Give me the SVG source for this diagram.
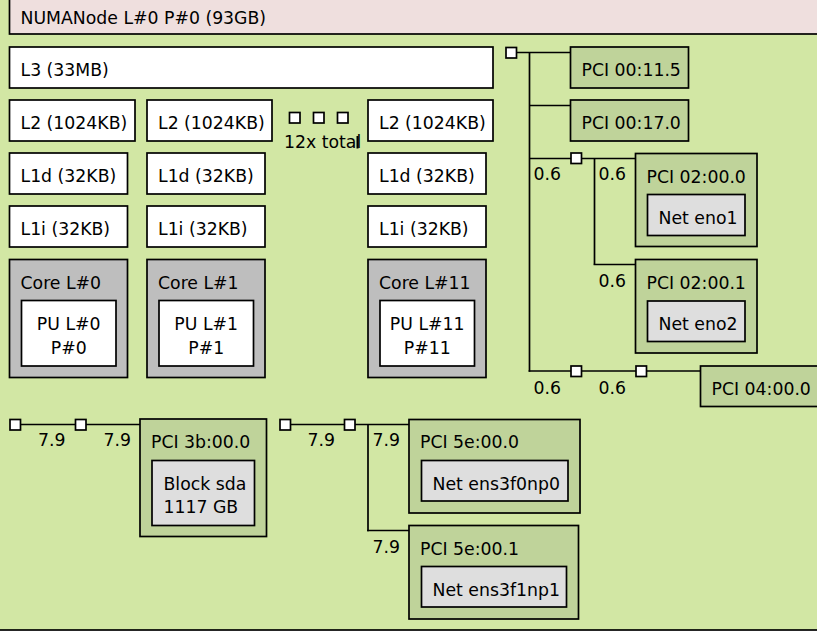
<svg xmlns="http://www.w3.org/2000/svg" width="817" height="632" viewBox="0 0 817 632">
<style>
rect{stroke:#000;stroke-width:1.7}
text{font-family:"DejaVu Sans",sans-serif;font-size:17.3px;fill:#000}
.pkg{fill:#d2e7a4}
.numa{fill:#efdfde}
.cache{fill:#fff}
.core{fill:#bebebe}
.pu{fill:#fff}
.pci{fill:#bfd39a}
.os{fill:#dedede}
.br{fill:#fff}
.c{text-anchor:middle}
#connectors line{stroke:#000;stroke-width:1.7}
</style>
<rect class="pkg" x="-10" y="-10" width="840" height="640"/>
<g id="numa"><rect class="numa" x="9.5" y="-10" width="820" height="44"/><text x="20.5" y="24">NUMANode L#0 P#0 (93GB)</text></g>
<g id="l3"><rect class="cache" x="9.5" y="47" width="483.5" height="41"/><text x="20.5" y="76">L3 (33MB)</text></g>
<g id="l2-0"><rect class="cache" x="9.5" y="100" width="125.5" height="41"/><text x="20.5" y="129">L2 (1024KB)</text></g>
<g id="l2-1"><rect class="cache" x="147" y="100" width="125" height="41"/><text x="158" y="129">L2 (1024KB)</text></g>
<g id="l2-11"><rect class="cache" x="368" y="100" width="125" height="41"/><text x="379" y="129">L2 (1024KB)</text></g>
<g id="l1d-0"><rect class="cache" x="9.5" y="153" width="118" height="41"/><text x="20.5" y="182">L1d (32KB)</text></g>
<g id="l1d-1"><rect class="cache" x="147" y="153" width="118" height="41"/><text x="158" y="182">L1d (32KB)</text></g>
<g id="l1d-11"><rect class="cache" x="368" y="153" width="118" height="41"/><text x="379" y="182">L1d (32KB)</text></g>
<g id="l1i-0"><rect class="cache" x="9.5" y="206" width="118" height="41"/><text x="20.5" y="235">L1i (32KB)</text></g>
<g id="l1i-1"><rect class="cache" x="147" y="206" width="118" height="41"/><text x="158" y="235">L1i (32KB)</text></g>
<g id="l1i-11"><rect class="cache" x="368" y="206" width="118" height="41"/><text x="379" y="235">L1i (32KB)</text></g>
<g id="core-0"><rect class="core" x="9.5" y="259.5" width="118" height="118"/><text x="20.5" y="288.5">Core L#0</text></g>
<g id="pu-0"><rect class="pu" x="21.5" y="300.5" width="94.5" height="65.5"/><text class="c" x="68.7" y="330">PU L#0</text><text class="c" x="68.7" y="353.5">P#0</text></g>
<g id="core-1"><rect class="core" x="147" y="259.5" width="118" height="118"/><text x="158" y="288.5">Core L#1</text></g>
<g id="pu-1"><rect class="pu" x="159" y="300.5" width="94.5" height="65.5"/><text class="c" x="206.2" y="330">PU L#1</text><text class="c" x="206.2" y="353.5">P#1</text></g>
<g id="core-11"><rect class="core" x="368" y="259.5" width="118" height="118"/><text x="379" y="288.5">Core L#11</text></g>
<g id="pu-11"><rect class="pu" x="380" y="300.5" width="94.5" height="65.5"/><text class="c" x="427.2" y="330">PU L#11</text><text class="c" x="427.2" y="353.5">P#11</text></g>
<g id="more"><rect class="br" x="289.5" y="112.5" width="10.5" height="10.5"/><rect class="br" x="313.5" y="112.5" width="10.5" height="10.5"/><rect class="br" x="337.5" y="112.5" width="10.5" height="10.5"/><text x="284" y="147.5">12x total</text><line x1="357.5" y1="136" x2="357.5" y2="148.5" stroke="#000" stroke-width="2"/></g>
<g id="connectors">
<line x1="517" y1="52.5" x2="570.5" y2="52.5"/>
<line x1="529.5" y1="52.5" x2="529.5" y2="371.8"/>
<line x1="529.5" y1="105.5" x2="570.5" y2="105.5"/>
<line x1="529.5" y1="158.5" x2="571" y2="158.5"/>
<line x1="582" y1="158.5" x2="635.5" y2="158.5"/>
<line x1="594.5" y1="158.5" x2="594.5" y2="264.5"/>
<line x1="593.6" y1="264.5" x2="635.5" y2="264.5"/>
<line x1="528.6" y1="371" x2="571" y2="371"/>
<line x1="582" y1="371" x2="636" y2="371"/>
<line x1="647" y1="371" x2="700.5" y2="371"/>
<line x1="21" y1="424.5" x2="75" y2="424.5"/>
<line x1="86" y1="424.5" x2="140" y2="424.5"/>
<line x1="290.5" y1="424.5" x2="344" y2="424.5"/>
<line x1="355" y1="424.5" x2="409" y2="424.5"/>
<line x1="368" y1="424.5" x2="368" y2="531.3"/>
<line x1="367.1" y1="530.5" x2="409" y2="530.5"/>
</g>
<g id="hostbridge-0"><rect class="br" x="506" y="47.5" width="10.5" height="10.5"/></g>
<g id="bridge-02"><rect class="br" x="571" y="153" width="10.5" height="10.5"/></g>
<g id="bridge-04a"><rect class="br" x="571" y="366" width="10.5" height="10.5"/></g>
<g id="bridge-04b"><rect class="br" x="636" y="366" width="10.5" height="10.5"/></g>
<g id="hostbridge-3b"><rect class="br" x="10" y="419.5" width="10.5" height="10.5"/></g>
<g id="bridge-3b"><rect class="br" x="75.5" y="419.5" width="10.5" height="10.5"/></g>
<g id="hostbridge-5e"><rect class="br" x="280" y="419.5" width="10.5" height="10.5"/></g>
<g id="bridge-5e"><rect class="br" x="344.5" y="419.5" width="10.5" height="10.5"/></g>
<g id="labels">
<text x="533.5" y="180">0.6</text><text x="598.5" y="180">0.6</text>
<text x="598.5" y="287">0.6</text>
<text x="533.5" y="393.5">0.6</text><text x="598.5" y="393.5">0.6</text>
<text x="38" y="446">7.9</text><text x="103.5" y="446">7.9</text>
<text x="307.5" y="446">7.9</text><text x="372.5" y="446">7.9</text>
<text x="372.5" y="552.5">7.9</text>
</g>
<g id="pci-00-11-5"><rect class="pci" x="570.5" y="47" width="118" height="41"/><text x="581.5" y="76">PCI 00:11.5</text></g>
<g id="pci-00-17-0"><rect class="pci" x="570.5" y="100" width="118" height="41"/><text x="581.5" y="129">PCI 00:17.0</text></g>
<g id="pci-02-00-0"><rect class="pci" x="635.5" y="153.5" width="121.5" height="93"/><text x="646.5" y="182.5">PCI 02:00.0</text></g>
<g id="net-eno1"><rect class="os" x="647.5" y="194.5" width="97.5" height="41"/><text x="658.5" y="223.5">Net eno1</text></g>
<g id="pci-02-00-1"><rect class="pci" x="635.5" y="259.5" width="121.5" height="93.5"/><text x="646.5" y="288.5">PCI 02:00.1</text></g>
<g id="net-eno2"><rect class="os" x="647.5" y="301" width="97.5" height="40.5"/><text x="658.5" y="330">Net eno2</text></g>
<g id="pci-04-00-0"><rect class="pci" x="700.5" y="366" width="130" height="40.5"/><text x="711.5" y="395">PCI 04:00.0</text></g>
<g id="pci-3b-00-0"><rect class="pci" x="140" y="419" width="126.5" height="117.5"/><text x="151" y="448">PCI 3b:00.0</text></g>
<g id="block-sda"><rect class="os" x="152" y="460.5" width="102.5" height="65"/><text x="163.5" y="489.5">Block sda</text><text x="163.5" y="513">1117 GB</text></g>
<g id="pci-5e-00-0"><rect class="pci" x="409" y="419.5" width="171" height="93.5"/><text x="420" y="448">PCI 5e:00.0</text></g>
<g id="net-ens3f0np0"><rect class="os" x="421.5" y="460.5" width="146.5" height="40.5"/><text x="432.5" y="489.5">Net ens3f0np0</text></g>
<g id="pci-5e-00-1"><rect class="pci" x="409" y="525.5" width="169.5" height="93.5"/><text x="420" y="554.5">PCI 5e:00.1</text></g>
<g id="net-ens3f1np1"><rect class="os" x="421.5" y="566.5" width="145" height="40.5"/><text x="432.5" y="595.5">Net ens3f1np1</text></g>
</svg>
